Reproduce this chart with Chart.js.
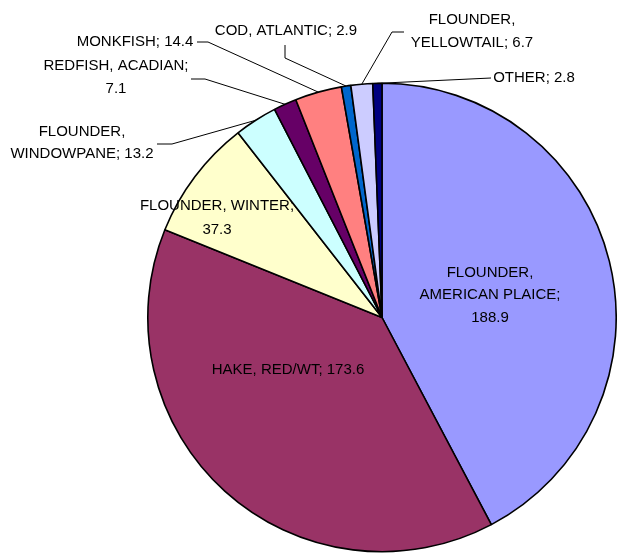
<!DOCTYPE html>
<html>
<head>
<meta charset="utf-8">
<script src="https://cdn.jsdelivr.net/npm/chart.js@4.4.1/dist/chart.umd.min.js"></script>
<style>
  html, body { margin: 0; padding: 0; background: #fff; }
  #wrap { width: 617px; height: 553px; }
</style>
</head>
<body>
<div id="wrap"><canvas id="pie_chart"></canvas></div>
<script>
// slices, clockwise from 12 o'clock
const species = [
    ["FLOUNDER,", "AMERICAN PLAICE;"],
    ["HAKE, RED/WT;"],
    ["FLOUNDER, WINTER;"],
    ["FLOUNDER,", "WINDOWPANE;"],
    ["REDFISH, ACADIAN;"],
    ["MONKFISH;"],
    ["COD, ATLANTIC;"],
    ["FLOUNDER,", "YELLOWTAIL;"],
    ["OTHER;"]
];
const landings = [188.9, 173.6, 37.3, 13.2, 7.1, 14.4, 2.9, 6.7, 2.8];
const sliceColors = ["#9999FF", "#993366", "#FFFFCC", "#CCFFFF", "#660066",
                     "#FF8080", "#0066CC", "#CCCCFF", "#000080"];

// where each label sits; inside labels have no leader
// lines: text lines [text, x, y]; leader: elbow points before the pie edge
const labelLayout = [
    { lines: [["FLOUNDER,", 490, 273], ["AMERICAN PLAICE;", 490, 295], ["188.9", 490, 318]] },
    { lines: [["HAKE, RED/WT; 173.6", 288, 370]] },
    { lines: [["FLOUNDER, WINTER;", 217, 206], ["37.3", 217, 230]] },
    { lines: [["FLOUNDER,", 82, 132], ["WINDOWPANE; 13.2", 82, 154]], leader: [[157, 144], [172, 144]] },
    { lines: [["REDFISH, ACADIAN;", 116, 66], ["7.1", 116, 89]], leader: [[191, 79], [205, 79]] },
    { lines: [["MONKFISH; 14.4", 135, 42]], leader: [[197, 42], [208, 42]] },
    { lines: [["COD, ATLANTIC; 2.9", 286, 31]], leader: [[285, 45], [285, 58]] },
    { lines: [["FLOUNDER,", 472, 20], ["YELLOWTAIL; 6.7", 472, 43]], leader: [[404, 32], [392, 32]] },
    { lines: [["OTHER; 2.8", 534, 78]], leader: [[491, 78]] }
];

const pieLabels = {
    id: "pieLabels",
    afterDatasetsDraw(chart) {
        const ctx = chart.ctx;
        const arcs = chart.getDatasetMeta(0).data;
        ctx.save();
        ctx.strokeStyle = "#000";
        ctx.lineWidth = 1;
        arcs.forEach(function (arc, i) {
            const lay = labelLayout[i];
            if (lay.leader) {
                const p = arc.getProps(["x", "y", "startAngle", "endAngle", "outerRadius"], true);
                const mid = (p.startAngle + p.endAngle) / 2;
                const ex = p.x + Math.cos(mid) * p.outerRadius;
                const ey = p.y + Math.sin(mid) * p.outerRadius;
                ctx.beginPath();
                ctx.moveTo(lay.leader[0][0], lay.leader[0][1]);
                for (let k = 1; k < lay.leader.length; k++) {
                    ctx.lineTo(lay.leader[k][0], lay.leader[k][1]);
                }
                ctx.lineTo(ex, ey);
                ctx.stroke();
            }
        });
        ctx.fillStyle = "#000";
        ctx.font = "15px 'Liberation Sans', Arial, sans-serif";
        ctx.textAlign = "center";
        ctx.textBaseline = "middle";
        labelLayout.forEach(function (lay) {
            lay.lines.forEach(function (ln) {
                ctx.fillText(ln[0], ln[1], ln[2]);
            });
        });
        ctx.restore();
    }
};

new Chart(document.getElementById("pie_chart").getContext("2d"), {
    type: "pie",
    data: {
        labels: species,
        datasets: [{
            data: landings,
            backgroundColor: sliceColors,
            borderColor: "#000",
            borderWidth: 1.6
        }]
    },
    options: {
        responsive: true,
        maintainAspectRatio: false,
        animation: false,
        layout: { padding: { left: 147, right: 0, top: 82, bottom: 0 } },
        plugins: {
            legend: { display: false },
            tooltip: { enabled: false }
        }
    },
    plugins: [pieLabels]
});
</script>
</body>
</html>
